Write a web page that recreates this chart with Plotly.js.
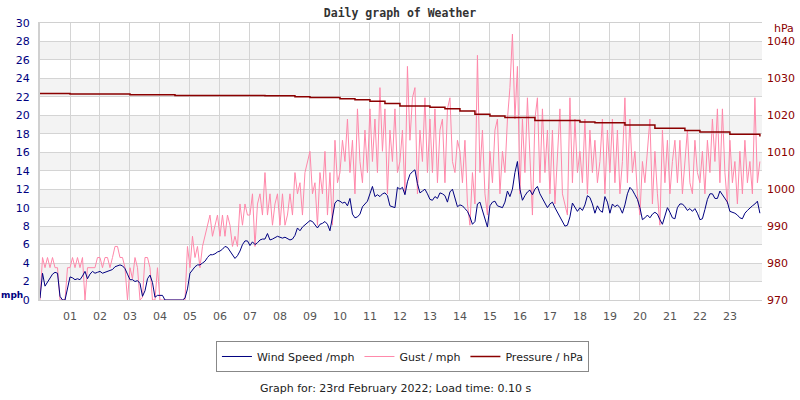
<!DOCTYPE html>
<html><head><meta charset="utf-8">
<script src="https://cdn.plot.ly/plotly-3.0.1.min.js"></script>
<style>html,body{margin:0;padding:0;background:#fff}#chart{width:800px;height:400px}</style>
</head><body><div id="chart"></div>
<script>
// 5-minute samples from 00:00 to 24:00 (hours)
const windSpeed = [
0.2,2.9,1.5,1.9,2.4,2.8,3.0,2.9,0.4,0,0,1.3,
2.5,2.4,2.2,2.3,2.2,2.6,3.1,2.3,2.8,3.1,2.9,3.0,
3.1,2.9,3.0,3.1,3.2,3.3,3.6,3.7,3.8,3.7,3.4,2.8,
2.2,2.2,2.0,2.1,1.8,0.4,1.0,2.3,2.7,1.9,0.3,0.5,
0.5,0.5,0,0,0,0,0,0,0,0,0.2,1.2,
2.9,3.3,3.6,3.8,3.8,4.0,4.2,4.6,4.9,4.9,5.0,5.2,
5.3,5.5,5.8,5.7,5.3,5.0,4.5,4.8,5.3,6.0,6.4,6.4,
5.9,6.3,6.0,6.2,6.5,6.6,6.6,7.2,6.5,6.6,6.8,6.9,
6.8,6.7,6.8,6.6,6.5,6.6,7.0,7.8,7.5,7.9,8.1,8.3,
8.6,8.5,8.1,7.8,8.2,8.3,8.5,8.2,7.5,8.9,10.5,10.8,
10.7,10.5,10.6,10.2,11.0,9.3,8.9,9.0,9.3,10.1,10.4,10.7,
11.5,12.3,11.2,11.4,11.2,11.5,11.6,11.3,10.2,10.1,10.0,12.2,
12.0,12.2,11.4,12.8,13.6,13.9,14.1,12.6,11.6,11.8,12.0,11.5,
10.9,10.8,11.2,11.0,11.6,11.5,11.3,10.6,11.7,12.0,11.0,10.1,
10.3,10.2,9.9,9.6,9.0,8.2,8.5,10.4,10.6,9.7,8.6,7.9,
10.2,10.6,10.7,10.2,10.1,10.0,10.6,11.8,11.2,12.0,13.8,15.0,
12.0,10.8,11.3,11.7,11.9,11.4,12.0,12.3,11.5,11.0,10.6,10.0,
10.4,10.6,10.0,9.5,9.0,8.4,8.0,8.1,9.0,10.5,10.1,9.6,
10.0,9.7,10.3,11.3,11.1,10.4,9.4,10.2,9.7,9.5,11.2,10.6,
9.4,10.4,10.1,10.3,10.0,9.4,10.3,11.5,12.2,11.9,11.4,10.9,
10.0,8.7,8.9,9.2,8.9,9.3,9.5,9.3,8.7,8.2,9.1,10.0,
9.5,8.9,8.8,10.0,10.4,10.4,10.1,9.7,9.9,9.6,9.9,9.4,
8.7,8.8,9.8,10.9,11.5,11.5,11.0,11.0,11.8,11.4,11.0,10.6,
9.6,9.5,9.4,9.2,8.9,8.8,9.4,9.7,10.0,10.2,10.4,10.7,
9.4];

const gust = [
0,4.6,3.5,4.6,3.5,4.6,3.5,3.5,0,0,0,3.5,
3.5,4.6,3.5,4.6,3.5,4.6,0,3.5,3.5,3.5,3.5,4.6,
4.6,3.5,4.6,4.6,3.5,4.6,5.8,5.8,4.6,4.6,3.5,0,
3.5,2.3,4.6,3.5,0,0.3,4.6,4.6,3.5,0,0,3.5,
0,0,0,0,0,0,0,0,0,0,0,5.8,
3.5,6.9,4.6,5.8,3.5,5.8,6.9,8.1,9.2,6.9,8.1,9.2,
6.9,9.2,6.9,9.2,8.1,5.8,6.9,5.8,10.4,8.1,10.4,9.2,
9.2,11.5,5.8,10.4,11.5,9.2,13.8,9.2,11.5,8.1,10.4,11.5,
8.1,11.5,8.1,9.2,11.5,9.2,13.8,11.5,12.7,9.2,13.8,15.0,
16.1,11.5,12.7,8.1,13.8,11.5,16.1,9.2,13.8,8.1,17.3,12.7,
13.8,17.3,15.0,19.6,13.8,17.3,11.5,20.7,15.0,12.7,18.4,13.8,
20.7,15.0,19.6,13.8,23.0,16.1,20.7,11.5,18.4,15.0,20.7,13.8,
15.0,18.4,11.5,25.3,17.3,21.9,23.0,11.5,18.4,15.0,21.9,13.8,
19.6,13.8,20.7,12.7,18.4,19.6,12.7,20.7,21.9,15.0,13.8,17.3,
16.1,12.7,17.3,10.4,8.1,13.8,10.4,26.5,13.8,18.4,11.5,9.2,
16.1,12.7,18.4,19.6,11.5,16.1,13.8,19.6,23.0,28.8,19.6,25.3,
11.5,19.6,13.8,21.9,15.0,9.2,19.6,21.9,12.7,20.7,13.8,18.4,
11.5,18.4,10.4,15.0,20.7,11.5,10.4,9.2,21.9,12.7,19.6,13.8,
16.1,12.7,19.6,11.5,18.4,13.8,17.3,12.7,15.0,19.6,11.5,18.4,
13.8,19.6,12.7,18.4,11.5,15.0,21.9,12.7,19.6,13.8,16.1,11.5,
9.2,15.0,12.7,16.1,19.6,10.4,16.1,11.5,8.1,18.4,12.7,17.3,
11.5,15.0,17.3,12.7,17.3,11.5,15.0,18.4,12.7,11.5,17.3,13.8,
12.7,16.1,11.5,17.3,13.8,19.6,15.0,20.7,12.7,20.7,13.8,10.4,
17.3,12.7,15.0,10.4,16.1,11.5,17.3,12.7,15.0,11.5,21.9,12.7,
15.0];

// half-hourly pressure, hPa
const pressure = [
1025.9,1025.9,1025.8,1025.8,1025.8,1025.8,1025.6,1025.6,1025.6,1025.4,
1025.4,1025.4,1025.4,1025.4,1025.4,1025.3,1025.3,1025.0,1024.8,1024.8,
1024.5,1024.2,1023.8,1023.2,1022.5,1022.5,1022.2,1021.8,1021.2,1020.3,
1019.8,1019.4,1019.4,1018.6,1018.6,1018.6,1018.2,1018.0,1018.0,1017.4,
1017.4,1016.5,1016.5,1015.9,1015.5,1015.5,1014.9,1014.9,1014.3];

const hourTicks = [1,2,3,4,5,6,7,8,9,10,11,12,13,14,15,16,17,18,19,20,21,22,23];
const hourLabels = ['01','02','03','04','05','06','07','08','09','10','11','12','13','14','15','16','17','18','19','20','21','22','23'];
const seriesNames = ['Wind Speed /mph','Gust / mph','Pressure / hPa'];

const NAVY = '#000080', PINK = '#ff88aa', DRED = '#8b0000';

const traces = [
  {type:'scatter', mode:'lines', name:seriesNames[1], x0:0, dx:1/12, y:gust,
   line:{color:PINK, width:1}, legendrank:2, hoverinfo:'skip'},
  {type:'scatter', mode:'lines', name:seriesNames[0], x0:0, dx:1/12, y:windSpeed,
   line:{color:NAVY, width:1}, legendrank:1, hoverinfo:'skip'},
  {type:'scatter', mode:'lines', name:seriesNames[2], x0:0, dx:0.5, y:pressure, yaxis:'y2',
   line:{color:DRED, width:1.5, shape:'hv'}, legendrank:3, hoverinfo:'skip'}
];

// alternating background bands
const shapes = [];
for (let b = 2; b < 30; b += 4) {
  shapes.push({type:'rect', xref:'paper', yref:'y', x0:0, x1:1, y0:b, y1:b+2,
    fillcolor:'#f3f3f3', line:{width:0}, layer:'below'});
}

const layout = {
  width:800, height:400,
  margin:{l:40, r:38, t:23, b:100, pad:0},
  paper_bgcolor:'#fff', plot_bgcolor:'#fff',
  font:{family:'DejaVu Sans', size:11, color:'#333'},
  title:{text:'<b>Daily graph of Weather</b>', font:{family:'DejaVu Sans Mono', size:11.5, color:'#333'},
    x:0.5, xanchor:'center', y:0.968, yref:'container', yanchor:'middle'},
  showlegend:true,
  legend:{orientation:'h', x:0.502, xanchor:'center', y:-0.148, yanchor:'top',
    bordercolor:'#888', borderwidth:1, bgcolor:'#fff', itemwidth:30,
    font:{family:'DejaVu Sans', size:11, color:'#222'}, traceorder:'normal'},
  xaxis:{range:[0,24.07], tickvals:hourTicks, ticktext:hourLabels, showgrid:true,
    gridcolor:'#d4d4d4', gridwidth:1, zeroline:false, showline:true, mirror:true,
    linecolor:'#d0d0d0', linewidth:1, ticks:'', ticklabelstandoff:6,
    tickfont:{family:'DejaVu Sans', size:11, color:'#555'}, fixedrange:true},
  yaxis:{range:[0,30], dtick:2, tick0:0, showgrid:true, gridcolor:'#d4d4d4', gridwidth:1,
    zeroline:false, showline:true, linecolor:'#d0d0d0', linewidth:2, mirror:false, ticks:'',
    ticklabelstandoff:6, tickfont:{family:'DejaVu Sans', size:11, color:NAVY}},
  yaxis2:{range:[970,1045], dtick:10, tick0:970, overlaying:'y', side:'right', showgrid:false,
    zeroline:false, showline:false, ticks:'', ticklabelstandoff:4,
    tickfont:{family:'DejaVu Sans', size:11, color:DRED}},
  shapes:shapes,
  annotations:[
    {text:'<b>mph</b>', xref:'paper', yref:'paper', x:0, y:0, xanchor:'left', yanchor:'middle',
     xshift:-40, yshift:5, showarrow:false, borderpad:0,
     font:{family:'DejaVu Sans', size:9, color:NAVY}},
    {text:'hPa', xref:'paper', yref:'paper', x:1, y:1, xanchor:'left', yanchor:'middle',
     xshift:10, yshift:-5, showarrow:false, font:{family:'DejaVu Sans', size:11, color:DRED}},
    {text:'Graph for: 23rd February 2022; Load time: 0.10 s', xref:'paper', yref:'paper',
     x:0.493, y:-0.318, xanchor:'center', yanchor:'middle', showarrow:false,
     font:{family:'DejaVu Sans', size:11, color:'#222'}}
  ]
};

Plotly.newPlot('chart', traces, layout, {displayModeBar:false, staticPlot:true});
</script></body></html>
